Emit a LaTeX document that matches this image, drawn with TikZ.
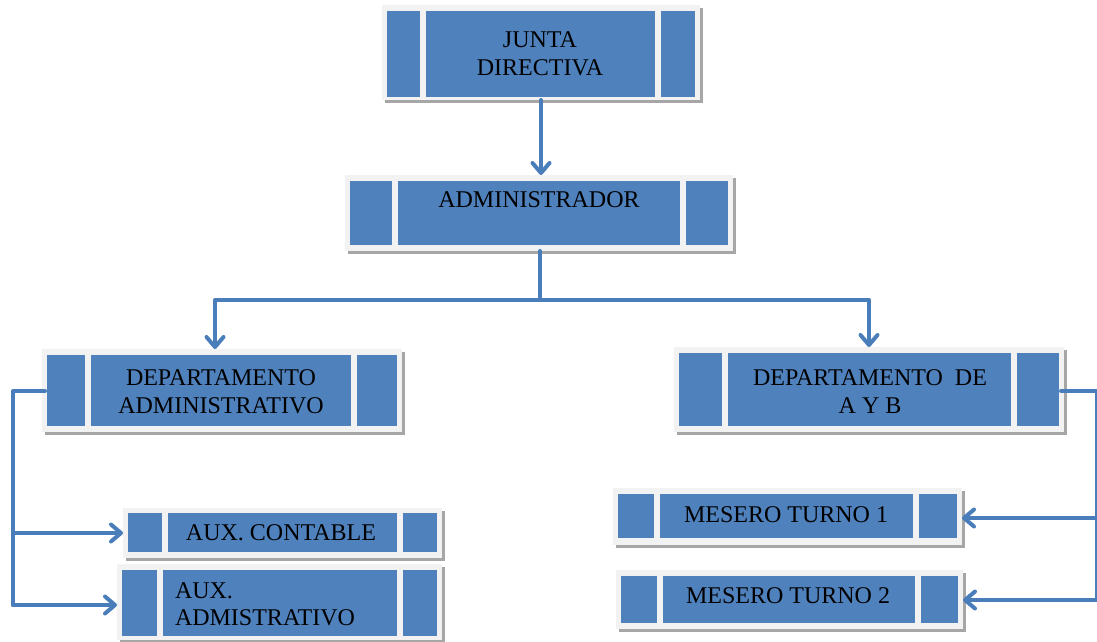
\documentclass[tikz,border=0pt]{standalone}
\usepackage{fontspec}
\setmainfont{Liberation Serif}
\usetikzlibrary{arrows.meta,calc}
\definecolor{panelblue}{HTML}{4F81BD}
\definecolor{linkblue}{HTML}{4A7EBB}
\definecolor{framegray}{HTML}{F2F2F2}
\definecolor{shadowgray}{HTML}{A6A6A6}
\tikzset{
  framebox/.style={fill=framegray, draw=none, inner sep=0pt, outer sep=0pt, rectangle},
  shadowbox/.style={fill=shadowgray},
  panelbox/.style={fill=panelblue},
  label/.style={inner sep=0pt, outer sep=0pt, font=\fontsize{24}{27}\selectfont, text=black},
  conn/.style={draw=linkblue, line width=4pt, line cap=round, line join=round},
  arr/.style={conn, -{Straight Barb[length=10pt, width=17pt, line cap=round, line join=round]}},
}
\newcommand\orgbox[9]{%
  \fill[shadowbox] (#2+3,#3+3) rectangle (#4+3,#5+3);
  \node[framebox, minimum width={(#4-#2)*1pt}, minimum height={(#5-#3)*1pt}] (#1) at ({(#2+#4)/2},{(#3+#5)/2}) {};
  \fill[panelbox] (#2+5,#6) rectangle (#8,#7);
  \fill[panelbox] (#8+6,#6) rectangle (#9-6,#7);
  \fill[panelbox] (#9,#6) rectangle (#4-5,#7);
}
\begin{document}
\begin{tikzpicture}[x=1pt,y=-1pt]
\useasboundingbox (0,0) rectangle (1097,642);
% boxes
\orgbox{jd}{382}{5}{700}{100}{11}{97}{420}{661}
\orgbox{ad}{345}{175}{733}{251}{181}{245}{392}{686}
\orgbox{da}{42}{349}{402}{432}{355}{426}{85}{357}
\orgbox{ay}{674}{347}{1064}{432}{353}{426}{722}{1017}
\orgbox{ac}{123}{508}{442}{558}{513}{552}{162}{403}
\orgbox{aa}{117}{564}{442}{640}{570}{636}{157}{403}
\orgbox{ma}{613}{488}{962}{545}{494}{538}{654}{919}
\orgbox{mb}{616}{570}{963}{629}{576}{623}{657}{921}
% texts
\node[label, anchor=base] (t1a) at (540,48) {JUNTA};
\node[label, anchor=base] (t1b) at (540,75) {DIRECTIVA};
\node[label, anchor=base] (t2) at (539,207) {ADMINISTRADOR};
\node[label, anchor=base] (t3a) at (221,385) {DEPARTAMENTO};
\node[label, anchor=base] (t3b) at (221,413) {ADMINISTRATIVO};
\node[label, anchor=base] (t4a) at (870,385) {DEPARTAMENTO~~DE};
\node[label, anchor=base] (t4b) at (870,413) {A Y B};
\node[label, anchor=base] (t5) at (281,540) {AUX. CONTABLE};
\node[label, anchor=base west] (t6a) at (175,598) {AUX.};
\node[label, anchor=base west] (t6b) at (175,625) {ADMISTRATIVO};
\node[label, anchor=base] (t7) at (786,522) {MESERO TURNO 1};
\node[label, anchor=base] (t8) at (788,603) {MESERO TURNO 2};
% connectors
\draw[arr] (jd.south) -- (jd.south |- ad.north);
\coordinate (split) at (540,300);
\draw[conn] (ad.south -| split) -- (split);
\draw[arr] (split) -| ([xshift=-7pt]da.north);
\draw[arr] (split) -| (ay.north);
\coordinate (lbus) at (13,391);
\draw[conn] ([xshift=3pt]da.west |- lbus) -- (lbus) -- (lbus |- 0,605);
\draw[arr] (lbus |- ac.west) -- (ac.west);
\draw[arr] (lbus |- 0,605) -- (aa.west |- 0,605);
\coordinate (rbus) at (1097,391);
\draw[conn] ([xshift=-3pt]ay.east |- rbus) -- (rbus) -- (rbus |- 0,600);
\draw[arr] (rbus |- 0,518) -- (ma.east |- 0,518);
\draw[arr] (rbus |- 0,600) -- (mb.east |- 0,600);
\end{tikzpicture}
\end{document}
